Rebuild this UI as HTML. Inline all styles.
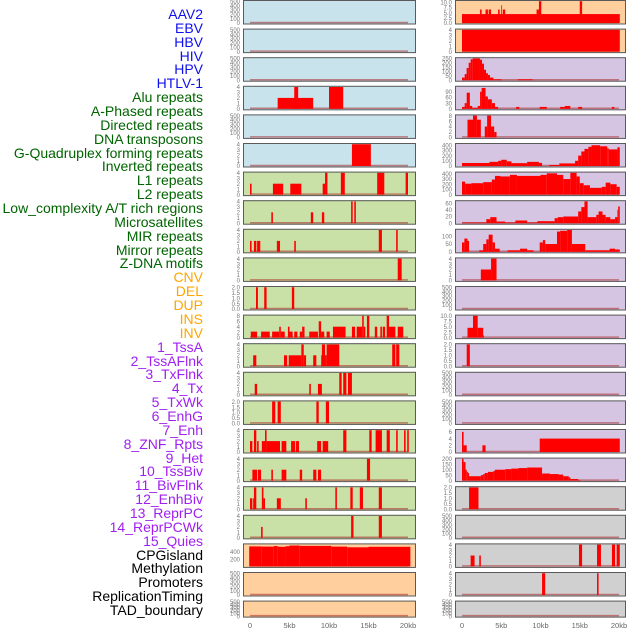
<!DOCTYPE html>
<html><head><meta charset="utf-8">
<style>
html,body{margin:0;padding:0;background:#fff;}
#wrap{position:relative;width:630px;height:630px;overflow:hidden;font-family:"Liberation Sans",sans-serif;}
.lab{position:absolute;right:427px;font-size:14px;line-height:14px;white-space:nowrap;}
</style></head><body>
<div id="wrap">
<svg id="svg" width="630" height="630" style="position:absolute;left:0;top:0"></svg>
</div>
<script>
const labels=["AAV2","EBV","HBV","HIV","HPV","HTLV-1","Alu repeats","A-Phased repeats","Directed repeats","DNA transposons","G-Quadruplex forming repeats","Inverted repeats","L1 repeats","L2 repeats","Low_complexity A/T rich regions","Microsatellites","MIR repeats","Mirror repeats","Z-DNA motifs","CNV","DEL","DUP","INS","INV","1_TssA","2_TssAFlnk","3_TxFlnk","4_Tx","5_TxWk","6_EnhG","7_Enh","8_ZNF_Rpts","9_Het","10_TssBiv","11_BivFlnk","12_EnhBiv","13_ReprPC","14_ReprPCWk","15_Quies","CPGisland","Methylation","Promoters","ReplicationTiming","TAD_boundary"];
const labelColors=[].concat(Array(6).fill("#1010ee"),Array(13).fill("#006400"),Array(5).fill("#ffa500"),Array(15).fill("#a020f0"),Array(5).fill("#000"));
const E=[0,100,200,300,400,500];
const leftMax=[500,500,500,4,500,4,4,4,4,4,2,8,4,4,2,4,4,4,4,600,500,500];
const leftTicks=[E,E,E,[0,1,2,3,4],E,[0,1,2,3,4],[0,1,2,3,4],[0,1,2,3,4],[0,1,2,3,4],[0,1,2,3,4],[0,0.5,1,1.5,2],[0,2,4,6,8],[0,1,2,3,4],[0,1,2,3,4],[0,0.5,1,1.5,2],[0,1,2,3,4],[0,1,2,3,4],[0,1,2,3,4],[0,1,2,3,4],[200,400],E,E];
const leftBars=[[],[],[],
[[3.5,8.0,2],[5.6,6.1,4],[10.0,11.8,4]],
[],
[[12.9,15.3,4]],
[[0,0.2,2],[2.9,4.2,2],[5.1,6.5,2],[9.2,9.5,2],[9.5,9.8,4],[11.5,12.0,4],[16.1,17.0,4],[19.7,20.0,4]],
[[2.7,2.9,2],[7.7,8.0,2],[9.1,9.4,2],[12.8,13.0,4],[13.2,13.4,4]],
[[0,0.2,2],[0.5,0.8,2],[0.9,1.3,2],[3.4,3.8,2],[5.6,5.8,2],[16.3,16.7,4],[18.5,18.7,4]],
[[18.7,19.2,4]],
[[0.76,1.0,2],[1.8,2.1,2],[5.3,5.6,2]],
[[0.1,0.9,2.2],[1.4,2.5,2.2],[2.8,3.7,2.2],[3.7,3.9,4],[3.9,4.4,2.2],[4.8,5.0,4],[5.0,5.4,2.2],[5.6,6.0,2.2],[6.3,6.6,2.2],[6.6,6.9,4],[7.5,8.6,2.2],[8.7,9.0,6],[9.0,9.4,2.2],[9.7,10.1,2.2],[10.5,12.1,4],[12.9,13.3,4],[13.5,14.2,4],[14.2,14.4,8],[14.4,14.6,4],[14.8,15.1,8],[15.8,16.1,4],[16.5,16.7,4],[16.8,17.1,4],[17.3,17.6,8],[17.6,18.4,4],[18.7,19.4,4]],
[[0.4,0.8,2],[4.3,4.7,2],[4.9,6.5,2],[6.5,6.8,4],[6.8,7.1,2],[8.0,8.4,2],[9.0,9.1,2],[9.1,9.5,4],[9.5,9.7,2],[9.7,11.3,4],[18.0,18.4,4],[18.5,18.9,4]],
[[0.6,0.9,2],[7.5,7.7,2],[8.6,9.1,2],[11.3,11.6,4],[11.8,12.2,4],[12.4,12.9,4]],
[[2.8,3.2,2],[3.5,3.9,2],[8.4,8.7,2],[9.6,10.0,2]],
[[0,0.3,2],[0.5,0.8,4],[0.9,1.1,2],[1.5,1.9,2],[1.9,2.1,4],[2.1,3.8,2],[4.0,4.6,2],[5.2,5.7,2],[5.8,6.2,2],[8.5,9.0,2],[9.2,9.9,2],[11.8,12.2,4],[15.1,15.4,4],[15.9,16.7,4],[17.3,17.7,4],[18.5,18.7,4],[19.5,19.7,4],[19.9,20.1,4]],
[[0.3,0.9,2],[1.0,1.4,2],[2.7,2.9,2],[4.0,4.6,2],[6.3,6.6,2],[8.0,8.4,2],[8.6,9.0,2],[14.8,15.2,4]],
[[0,0.3,2],[0.4,0.5,2],[0.5,0.8,4],[1.5,1.7,4],[1.7,1.9,2],[3.4,3.9,2],[7.0,7.2,2],[10.8,11.0,4],[12.7,13.0,4],[13.9,14.3,4],[16.3,16.7,4]],
[[1.4,1.6,2],[12.8,13.1,4],[16.3,16.7,4]],
[[-0.1,1.5,550],[1.5,3,545],[3,3.5,560],[3.5,4.5,540],[4.5,5,555],[5,6.3,575],[6.3,10.3,565],[10.3,12.3,545],[12.3,15,525],[15,20.3,540]],
[],[]];
const rightMax=[10.5,4,250,115,8,420,420,65,140,4,500,10,2,500,500,6.5,200,2,500,4,4,500];
const rightTicks=[[0,2.5,5,7.5,10],[0,1,2,3,4],[0,50,100,150,200,250],[0,30,60,90],[0,2,4,6,8],[0,100,200,300,400],[0,100,200,300,400],[0,20,40,60],[0,50,100],[0,1,2,3,4],E,[0,2.5,5,7.5,10],[0,0.5,1,1.5,2],E,E,[0,2,4,6],[0,50,100,150,200],[0,0.5,1,1.5,2],E,[0,1,2,3,4],[0,1,2,3,4],E];
const rightBars=[
[[0,20.1,4.3],[2.3,2.5,6.5],[3.0,3.3,6.5],[3.4,3.7,6.5],[4.6,4.8,6.5],[5.0,5.1,8.5],[5.2,5.5,6.5],[9.5,9.8,6.5],[9.8,10.1,10.5],[15.0,15.3,10.5]],
[[0,20.1,4]],
[[0,0.34,30],[0.34,0.59,70],[0.59,0.85,140],[0.85,1.1,200],[1.1,1.36,240],[1.36,2.29,250],[2.29,2.55,235],[2.55,2.8,190],[2.8,3.06,120],[3.06,3.3,80],[3.3,3.57,60],[3.57,4.0,30],[4.0,5.05,10],[7.1,9.0,10]],
[[0,0.34,10],[0.34,0.6,30],[0.6,1.0,85],[1.0,1.3,15],[1.3,2.0,5],[2.0,2.3,15],[2.3,2.5,90],[2.5,3.0,110],[3.0,3.3,65],[3.3,3.8,50],[3.8,4.2,30],[4.2,4.6,10],[6.9,7.3,10],[9.9,10.8,10],[12.5,13.1,10],[13.1,13.8,15],[14.8,15.3,10],[19.1,19.4,10]],
[[0.7,1.4,6.5],[1.4,1.9,8],[1.9,2.4,6.5],[2.9,3.2,4],[3.2,3.7,8],[3.7,4.1,4],[4.1,4.4,2]],
[[0,3.5,58],[3.5,4.6,80],[4.6,5.0,100],[5.0,5.7,120],[5.7,6.3,90],[6.3,8.3,55],[8.3,9.8,80],[9.8,10.2,60],[11.1,12.4,20],[12.4,14.4,50],[14.4,14.8,100],[14.8,15.2,200],[15.2,15.6,280],[15.6,16.1,330],[16.1,16.5,370],[16.5,17.6,400],[17.6,18.5,380],[18.5,18.7,340],[18.7,19.8,320],[19.8,20.1,360]],
[[0,0.4,250],[0.4,1.2,210],[1.2,2.7,220],[2.7,3.8,240],[3.8,4.2,290],[4.2,4.9,360],[4.9,6.1,350],[6.1,7.0,380],[7.0,10.0,360],[10.0,10.8,380],[10.8,12.1,410],[12.1,12.9,380],[12.9,13.8,300],[13.8,14.6,420],[14.6,15.0,350],[15.0,15.5,220],[15.5,16.3,180],[16.3,17.8,130],[17.8,18.3,150],[18.3,18.9,230],[18.9,19.7,200],[19.7,20.1,150]],
[[0,3.1,2],[3.1,3.6,12],[3.6,4.4,18],[4.4,5.5,5],[5.5,6.8,2],[6.8,8.3,8],[8.3,9.6,2],[9.6,11.8,6],[11.8,12.2,15],[12.2,12.9,18],[12.9,14.8,20],[14.8,15.2,35],[15.2,15.6,48],[15.6,16.0,65],[16.0,17.1,18],[17.1,17.4,25],[17.4,17.9,35],[17.9,18.3,25],[18.3,18.9,18],[18.9,19.5,12],[19.5,19.8,18],[19.8,19.9,40],[19.9,20.1,50]],
[[0,0.3,60],[0.3,0.7,85],[0.7,0.9,70],[2.2,2.7,10],[2.7,3.1,50],[3.1,3.4,80],[3.4,3.9,110],[3.9,4.2,60],[4.2,4.8,20],[5.8,6.6,10],[6.6,7.4,10],[7.4,8.3,20],[8.3,9.1,10],[9.9,10.3,60],[10.3,10.6,75],[10.6,12.1,50],[12.1,12.5,130],[12.5,13.4,135],[13.4,14.0,140],[14.0,15.7,50],[15.7,18.8,10],[18.8,19.5,20],[19.5,20.1,15]],
[[2.4,3.7,2],[3.7,4.4,4]],
[],
[[0.7,1.4,4.5],[1.4,2.0,10],[2.0,2.7,4.5],[2.7,2.8,1]],
[[0.6,1.0,2]],
[],[],
[[0,0.2,6],[0.2,0.6,2],[2.6,3.0,2],[9.9,20.1,4]],
[[0,0.2,200],[0.2,0.45,170],[0.45,0.6,100],[0.6,0.75,80],[0.75,0.9,70],[0.9,2.4,40],[2.4,2.7,50],[2.7,2.9,60],[2.9,3.3,70],[3.3,4.0,80],[4.0,4.2,90],[4.2,5.5,100],[5.5,6.3,105],[6.3,7.2,110],[7.2,8.3,115],[8.3,10.2,120],[10.2,11.2,65],[11.2,12.3,60],[12.3,12.9,55],[12.9,13.6,40],[13.6,13.8,30],[13.8,14.8,15],[14.8,15.1,5]],
[[0.9,2.1,2]],
[],
[[1.1,1.6,2],[2.2,2.4,2],[14.9,15.3,4],[17.2,17.7,4],[19.1,19.5,4],[19.7,20.1,4]],
[[10.2,10.6,4],[17.2,17.4,4]],
[]];
const xTickVals=[0,5,10,15,20];
const xTickLabels=["0","5kb","10kb","15kb","20kb"];

const NS="http://www.w3.org/2000/svg";
const svg=document.getElementById("svg");
function mk(tag,attrs,parent){const e=document.createElementNS(NS,tag);for(const k in attrs)e.setAttribute(k,attrs[k]);(parent||svg).appendChild(e);return e;}
const wrap=document.getElementById("wrap");
labels.forEach((t,i)=>{
  const d=document.createElement("div");
  d.className="lab";
  
  
  d.style.top=(15+i*13.86-8)+"px";
  d.style.color=labelColors[i];
  d.textContent=t;
  wrap.appendChild(d);
});
function bgLeft(i){return i<6?"#c8e3eb":(i<19?"#c9e0a6":"#ffd09e");}
function bgRight(i){return i<2?"#ffd09e":(i<17?"#d5c5e3":"#d0d0d0");}
const cols=[{x0:243,x1:416,z:250,s:7.9,tx:240,max:leftMax,ticks:leftTicks,bars:leftBars,bg:bgLeft,name:'left'},
            {x0:455,x1:626,z:462,s:7.85,tx:452,max:rightMax,ticks:rightTicks,bars:rightBars,bg:bgRight,name:'right'}];
cols.forEach(c=>{
  const xs=kb=>c.z+kb*c.s;
  for(let i=0;i<22;i++){
    const top=i*28.6, h=(i==21?17:24.5);
    const g=mk("g",{});
    
    
    mk("rect",{x:c.x0,y:top,width:c.x1-c.x0,height:h,fill:c.bg(i)},g);
    const yb=top+h-1.5, yt=top+1.2;
    const ys=v=>yb-(v/c.max[i])*(yb-yt);
    mk("line",{x1:xs(0),x2:xs(20),y1:yb-0.5,y2:yb-0.5,stroke:"rgba(170,40,40,0.55)","stroke-width":1.5},g);
    c.bars[i].forEach(b=>{
      const r=mk("rect",{x:xs(b[0]),y:ys(b[2]),width:Math.max(0.8,xs(b[1])-xs(b[0])),height:yb-ys(b[2]),fill:"#ff0000"},g);
      
      
    });
    mk("rect",{x:c.x0+0.5,y:top+0.5,width:c.x1-c.x0-1,height:h-1,fill:"none",stroke:"#5a5a5a","stroke-width":1},g);
    c.ticks[i].forEach(t=>{
      const tx=mk("text",{x:c.tx,y:ys(t)+2.2,"font-size":6,fill:"#777","text-anchor":"end","font-family":"Liberation Sans, sans-serif"},g);
      tx.textContent=(c.ticks[i].some(v=>v%1)?t.toFixed(1):String(t));
    });
  }
  xTickVals.forEach((v,k)=>{
    const t=mk("text",{x:xs(v),y:628,"font-size":7.5,fill:"#666","text-anchor":"middle","font-family":"Liberation Sans, sans-serif"});
    
    
    t.textContent=xTickLabels[k];
  });
});
</script>
</body></html>
